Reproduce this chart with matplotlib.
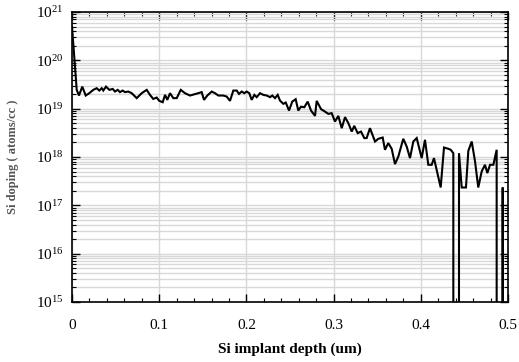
import matplotlib
matplotlib.use("Agg")
import matplotlib.pyplot as plt
from matplotlib.ticker import LogLocator, MultipleLocator, NullFormatter, FixedLocator

plt.rcParams['font.family'] = ['Liberation Serif', 'DejaVu Serif']
plt.rcParams['mathtext.fontset'] = 'stix'

# depth (um)
depth = [
    0.0000, 0.0054, 0.0080, 0.0118, 0.0157, 0.0198, 0.0244, 0.0283, 0.0313, 0.0341,
    0.0359, 0.0390, 0.0428, 0.0467, 0.0493, 0.0524, 0.0550, 0.0581, 0.0608, 0.0646,
    0.0685, 0.0742, 0.0799, 0.0857, 0.0894, 0.0932, 0.0971, 0.1001, 0.1040, 0.1067,
    0.1093, 0.1124, 0.1162, 0.1201, 0.1247, 0.1296, 0.1353, 0.1411, 0.1448, 0.1487,
    0.1514, 0.1552, 0.1602, 0.1640, 0.1678, 0.1735, 0.1774, 0.1812, 0.1850, 0.1889,
    0.1915, 0.1946, 0.1976, 0.2003, 0.2033, 0.2061, 0.2091, 0.2118, 0.2156, 0.2194,
    0.2233, 0.2271, 0.2297, 0.2328, 0.2359, 0.2385, 0.2423, 0.2451, 0.2489, 0.2526,
    0.2565, 0.2595, 0.2626, 0.2664, 0.2703, 0.2741, 0.2787, 0.2806, 0.2856, 0.2901,
    0.2939, 0.2978, 0.3016, 0.3054, 0.3093, 0.3131, 0.3169, 0.3208, 0.3237, 0.3276,
    0.3314, 0.3352, 0.3379, 0.3417, 0.3475, 0.3513, 0.3563, 0.3589, 0.3627, 0.3666,
    0.3704, 0.3742, 0.3799, 0.3838, 0.3876, 0.3914, 0.3953, 0.4010, 0.4048, 0.4086,
    0.4125, 0.4151, 0.4228, 0.4266, 0.4315, 0.4343, 0.4373, 0.4392, 0.4430, 0.4438,
    0.4469, 0.4518, 0.4545, 0.4584, 0.4622, 0.4659, 0.4698, 0.4736, 0.4763, 0.4794,
    0.4832, 0.4870, 0.4889, 0.4916, 0.4939, 0.4954,
]

# Si concentration (atoms/cc); 0 = below detection
conc = [
    5.0e20, 2.45e19, 1.87e19, 2.86e19, 1.87e19, 2.09e19, 2.45e19, 2.65e19, 2.37e19, 2.65e19,
    2.37e19, 2.86e19, 2.45e19, 2.56e19, 2.26e19, 2.45e19, 2.20e19, 2.37e19, 2.20e19, 2.26e19,
    2.09e19, 1.65e19, 2.09e19, 2.45e19, 1.93e19, 1.59e19, 1.70e19, 1.45e19, 1.36e19, 1.93e19,
    1.52e19, 2.09e19, 1.65e19, 1.65e19, 2.45e19, 2.09e19, 1.87e19, 2.00e19, 2.09e19, 2.20e19,
    1.52e19, 1.87e19, 2.26e19, 2.09e19, 1.87e19, 1.87e19, 1.78e19, 1.45e19, 2.37e19, 2.37e19,
    2.02e19, 2.26e19, 2.09e19, 2.26e19, 2.09e19, 1.52e19, 1.93e19, 1.73e19, 2.09e19, 1.93e19,
    1.87e19, 1.73e19, 1.87e19, 1.65e19, 1.93e19, 1.47e19, 1.26e19, 1.34e19, 9.14e18, 1.40e19,
    1.57e19, 9.14e18, 1.10e19, 1.07e19, 1.40e19, 9.14e18, 7.10e18, 1.45e19, 9.76e18, 8.71e18,
    7.81e18, 8.07e18, 5.41e18, 7.10e18, 3.95e18, 6.68e18, 5.02e18, 3.36e18, 4.41e18, 3.12e18,
    3.36e18, 2.46e18, 2.46e18, 3.95e18, 2.09e18, 2.38e18, 2.53e18, 1.41e18, 1.94e18, 1.48e18,
    7.13e17, 1.02e18, 2.38e18, 1.65e18, 9.49e17, 2.09e18, 2.46e18, 9.49e17, 2.27e18, 6.90e17,
    6.90e17, 9.49e17, 2.34e17, 1.57e18, 1.48e18, 1.41e18, 1.20e18, 0.0, 0.0, 1.20e18,
    2.34e17, 2.34e17, 1.34e18, 2.09e18, 8.07e17, 2.34e17, 5.01e17, 6.90e17, 4.65e17, 6.90e17,
    6.90e17, 1.41e18, 0.0, 0.0, 2.34e17, 0.0,
]

x_ticks = [0, 0.1, 0.2, 0.3, 0.4, 0.5]
x_ticklabels = ['0', '0.1', '0.2', '0.3', '0.4', '0.5']

fig = plt.figure(figsize=(5.19, 3.62), dpi=100)
ax = fig.add_axes([72/519, 1-302/362, (508-72)/519, (302-12)/362])

ax.set_yscale('log', nonpositive='clip')
ax.plot(depth, conc, color='black', lw=1.5, solid_joinstyle='miter')

ax.set_xlim(0, 0.5)
ax.set_ylim(1e15, 1e21)

ax.xaxis.set_major_locator(FixedLocator(x_ticks))
ax.set_xticklabels(x_ticklabels)
ax.xaxis.set_minor_locator(MultipleLocator(0.02))
ax.yaxis.set_major_locator(LogLocator(base=10, numticks=10))
ax.yaxis.set_minor_locator(LogLocator(base=10, subs=range(2, 10), numticks=100))
ax.yaxis.set_minor_formatter(NullFormatter())

ax.grid(True, which='major', axis='x', color='#d8d8d8', lw=1.0)
ax.grid(True, which='both', axis='y', color='#d8d8d8', lw=1.0)
ax.set_axisbelow(True)

ax.tick_params(which='both', direction='in', top=True, right=True, colors='black')
ax.tick_params(which='major', length=6, width=1.0, labelsize=11)
ax.tick_params(which='minor', length=3, width=0.8)
ax.tick_params(axis='x', which='major', pad=12)
ax.tick_params(axis='y', which='major', pad=6)

for s in ax.spines.values():
    s.set_linewidth(1.2)
    s.set_color('black')

ax.set_xlabel('Si implant depth (um)', fontsize=11, fontweight='bold', labelpad=8)
ax.set_ylabel('Si doping ( atoms/cc )', fontsize=9, fontweight='bold', color='#555555', labelpad=12)

fig.savefig('out.png', dpi=100)
